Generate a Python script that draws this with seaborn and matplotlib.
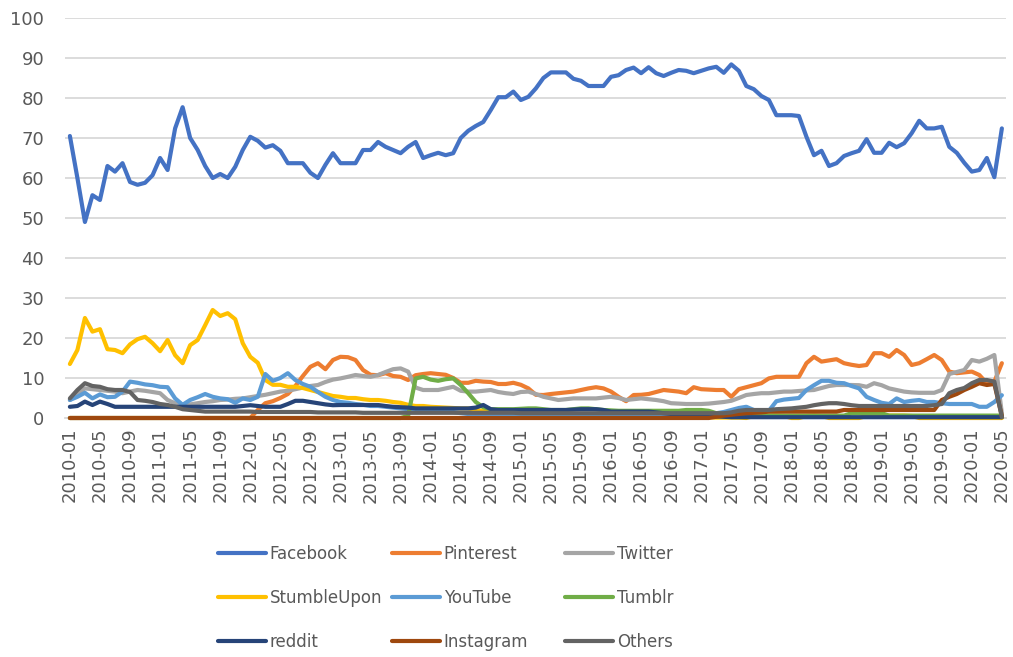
import numpy as np
import pandas as pd
import matplotlib
matplotlib.use("Agg")
import matplotlib.pyplot as plt
import seaborn as sns

# monthly share (%) by platform, 2010-01 .. 2020-05
months = pd.period_range("2010-01", "2020-05", freq="M").strftime("%Y-%m").tolist()

facebook = [70.5, 60, 49, 55.7, 54.5, 63, 61.6, 63.7, 59, 58.3, 58.8, 60.7,
            65, 62, 72.4, 77.7, 70, 67, 63, 60, 61, 60, 62.8, 67,
            70.3, 69.3, 67.6, 68.2, 66.8, 63.7, 63.7, 63.7, 61.3, 60, 63.3, 66.2,
            63.7, 63.7, 63.7, 67, 67, 69, 67.8, 67, 66.2, 67.8, 69, 65,
            65.7, 66.3, 65.7, 66.2, 70, 71.8, 73, 74, 77, 80.2, 80.2, 81.6,
            79.5, 80.3, 82.4, 85, 86.4, 86.4, 86.4, 84.8, 84.3, 83, 83, 83,
            85.3, 85.7, 87, 87.6, 86.2, 87.7, 86.2, 85.5, 86.3, 87, 86.8, 86.2,
            86.8, 87.4, 87.8, 86.3, 88.4, 86.8, 83, 82.2, 80.5, 79.5, 75.7, 75.7,
            75.7, 75.5, 70.3, 65.7, 66.8, 63, 63.7, 65.5, 66.2, 66.8, 69.7, 66.3,
            66.3, 68.8, 67.7, 68.7, 71.2, 74.3, 72.4, 72.4, 72.8, 67.8, 66.3, 63.8,
            61.6, 62, 65, 60.2, 72.4]

pinterest = [0, 0, 0, 0, 0, 0, 0, 0, 0, 0, 0, 0,
             0, 0, 0, 0, 0, 0, 0, 0, 0, 0, 0, 0,
             0, 2, 3.7, 4.2, 5, 6, 8, 10.5, 12.8, 13.7, 12.2, 14.5,
             15.3, 15.2, 14.5, 12, 10.8, 10.7, 11.2, 10.5, 10.3, 9.5, 10.7, 11,
             11.2, 11, 10.8, 10, 8.8, 8.8, 9.3, 9.1, 9, 8.5, 8.5, 8.8,
             8.3, 7.4, 5.8, 5.75, 6, 6.2, 6.4, 6.6, 7, 7.4, 7.7, 7.4,
             6.6, 5.3, 4.2, 5.75, 5.8, 6, 6.5, 7, 6.8, 6.6, 6.2, 7.7,
             7.2, 7.1, 7, 7, 5.3, 7.2, 7.7, 8.2, 8.7, 9.9, 10.3, 10.3,
             10.3, 10.3, 13.7, 15.3, 14.1, 14.4, 14.7, 13.7, 13.3, 13, 13.25, 16.2,
             16.2, 15.3, 17, 15.75, 13.25, 13.7, 14.7, 15.75, 14.5, 11.6, 11.2, 11.4,
             11.6, 10.75, 8.7, 9.1, 13.7]

twitter = [4.5, 6, 7.4, 7.2, 7, 6.8, 6.6, 6.2, 6.6, 7, 6.8, 6.5,
           6.2, 4.5, 3.7, 3.25, 3.4, 3.7, 4, 4.2, 4.5, 4.6, 4.8, 4.9,
           5.2, 5.5, 5.8, 6.2, 6.6, 6.8, 7.2, 7.6, 8, 8.25, 9, 9.6,
           9.9, 10.3, 10.75, 10.5, 10.3, 10.75, 11.5, 12.2, 12.4, 11.6, 7.6, 7,
           7, 7, 7.4, 7.8, 6.8, 6.6, 6.6, 6.8, 7, 6.5, 6.2, 6,
           6.5, 6.6, 6, 5.3, 4.9, 4.5, 4.7, 4.9, 4.9, 4.9, 4.9, 5.1,
           5.3, 5, 4.5, 4.7, 4.9, 4.7, 4.5, 4.2, 3.7, 3.6, 3.5, 3.5,
           3.5, 3.6, 3.8, 4, 4.3, 5, 5.75, 6, 6.2, 6.2, 6.4, 6.6,
           6.6, 6.75, 6.9, 7, 7.5, 8, 8.25, 8.25, 8.25, 8.2, 7.8, 8.7,
           8.2, 7.4, 7, 6.6, 6.4, 6.3, 6.3, 6.3, 7, 11, 11.5, 12,
           14.5, 14.1, 14.8, 15.75, 1.2]

stumbleupon = [13.5, 17, 25, 21.6, 22.2, 17.2, 17, 16.2, 18.4, 19.7, 20.3, 18.7,
               16.7, 19.5, 15.7, 13.7, 18.2, 19.5, 23.2, 27, 25.5, 26.2, 24.7, 18.7,
               15.3, 13.8, 9.5, 8.3, 8.3, 7.8, 7.8, 7.5, 7, 6.5, 6, 5.5,
               5.3, 5, 5, 4.7, 4.5, 4.5, 4.3, 4, 3.8, 3.3, 3, 3,
               2.8, 2.7, 2.6, 2.5, 2.4, 2.4, 2, 1.8, 1.5, 1.5, 1.3, 1.2,
               1.2, 1, 1, 1, 0.9, 0.9, 0.8, 0.8, 0.7, 0.7, 0.6, 0.6,
               0.5, 0.5, 0.5, 0.4, 0.4, 0.4, 0.3, 0.3, 0.3, 0.3, 0.2, 0.2,
               0.2, 0.2, 0.1, 0.1, 0.1, 0.1, 0, 0.5, 0.6, 0.6, 0.6, 0.5,
               0, 0, 0.5, 0.6, 0.5, 0, 0, 0, 0, 0, 0.5, 0.6,
               0.6, 0.6, 0.6, 0.6, 0.5, 0, 0, 0, 0, 0, 0, 0,
               0, 0, 0, 0, 0]

youtube = [4.5, 5.3, 6.3, 4.9, 5.9, 5.2, 5.3, 6.6, 9.1, 8.8, 8.4, 8.2,
           7.8, 7.7, 4.9, 3.3, 4.5, 5.2, 6, 5.3, 4.9, 4.7, 3.8, 4.9,
           4.5, 5.3, 11, 9.3, 10, 11.2, 9.5, 8.5, 7.8, 6.5, 5.3, 4.5,
           4, 3.8, 3.5, 3.3, 3, 3, 2.8, 2.6, 2.4, 2.2, 2, 2,
           1.8, 1.8, 1.6, 1.5, 1.2, 1, 1, 1, 1, 1, 1, 1,
           1, 1, 1, 1, 1, 1, 1, 1, 1, 1, 1, 1,
           1, 1, 1, 1, 1, 1, 1, 1, 1, 1, 1, 1,
           1, 1, 1.2, 1.5, 2, 2.5, 2.8, 2, 1.6, 1.8, 4.2, 4.6,
           4.8, 5, 7, 8.2, 9.3, 9.3, 8.8, 8.7, 8, 7.4, 5.3, 4.5,
           3.8, 3.5, 4.9, 4, 4.3, 4.5, 4, 4, 3.7, 3.5, 3.5, 3.5,
           3.5, 2.8, 2.8, 4, 5.7]

tumblr = [0, 0, 0, 0, 0, 0, 0, 0, 0, 0, 0, 0,
          0, 0, 0, 0, 0, 0, 0, 0, 0, 0, 0, 0,
          0, 0, 0, 0, 0, 0, 0, 0, 0, 0, 0, 0,
          0, 0, 0, 0, 0, 0, 0, 0, 0, 0.5, 9.9, 10.3,
          9.6, 9.3, 9.7, 9.9, 8.25, 6.2, 4, 2.7, 2.2, 2.2, 2.2, 2.2,
          2.3, 2.4, 2.4, 2.2, 2, 2, 2, 2.2, 2.4, 2.4, 2.2, 2,
          1.9, 1.8, 1.8, 1.8, 1.8, 1.8, 1.8, 1.8, 1.8, 1.8, 2, 2,
          2, 1.8, 1.2, 1, 0.8, 0.6, 0.6, 0.6, 0.6, 0.6, 0.6, 0.6,
          0.6, 0.6, 0.6, 0.6, 0.6, 0.6, 0.6, 0.6, 1.2, 1.2, 1.2, 1.2,
          1.2, 0.6, 0.6, 0.6, 0.6, 0.6, 0.6, 0.6, 0.6, 0.6, 0.6, 0.6,
          0.6, 0.6, 0.6, 0.6, 0.6]

reddit = [2.8, 3, 4.1, 3.25, 4.1, 3.5, 2.8, 2.8, 2.8, 2.8, 2.8, 2.8,
          2.8, 2.8, 2.8, 2.8, 2.8, 2.8, 2.8, 2.8, 2.8, 2.8, 2.8, 3,
          3.2, 3, 2.8, 2.8, 2.8, 3.5, 4.3, 4.3, 4, 3.7, 3.4, 3.2,
          3.25, 3.25, 3.25, 3.25, 3.25, 3.25, 3, 2.8, 2.7, 2.6, 2.4, 2.4,
          2.4, 2.4, 2.4, 2.4, 2.4, 2.4, 2.6, 3.25, 2.2, 2, 2, 2,
          2, 2, 2, 2, 2, 2, 2, 2.1, 2.2, 2.2, 2.2, 2,
          1.6, 1.6, 1.6, 1.6, 1.6, 1.6, 1.4, 1.2, 1, 1, 0.8, 0.8,
          0.6, 0.5, 0.4, 0.3, 0.2, 0.2, 0.2, 0.2, 0.2, 0.2, 0.2, 0.2,
          0.2, 0.2, 0.2, 0.2, 0.2, 0.2, 0.2, 0.2, 0.2, 0.2, 0.2, 0.2,
          0.2, 0.2, 0.2, 0.2, 0.2, 0.2, 0.2, 0.2, 0.2, 0.2, 0.2, 0.2,
          0.2, 0.2, 0.2, 0.2, 0.2]

instagram = [0, 0, 0, 0, 0, 0, 0, 0, 0, 0, 0, 0,
             0, 0, 0, 0, 0, 0, 0, 0, 0, 0, 0, 0,
             0, 0, 0, 0, 0, 0, 0, 0, 0, 0, 0, 0,
             0, 0, 0, 0, 0, 0, 0, 0, 0, 0, 0, 0,
             0, 0, 0, 0, 0, 0, 0, 0, 0, 0, 0, 0,
             0, 0, 0, 0, 0, 0, 0, 0, 0, 0, 0, 0,
             0, 0, 0, 0, 0, 0, 0, 0, 0, 0, 0, 0,
             0, 0, 0.3, 0.6, 0.8, 1, 1.2, 1.3, 1.4, 1.6, 1.6, 1.6,
             1.6, 1.6, 1.6, 1.6, 1.6, 1.6, 1.6, 2, 2, 2, 2, 2,
             2, 2, 2, 2, 2, 2, 2, 2, 4.5, 5.3, 6, 7,
             7.8, 8.7, 8.25, 8.5, 0.5]

others = [4.9, 7, 8.7, 8, 7.8, 7.2, 7, 7, 6.5, 4.5, 4.3, 4,
          3.5, 3.25, 2.8, 2.2, 2, 1.8, 1.6, 1.6, 1.6, 1.6, 1.6, 1.6,
          1.6, 1.5, 1.5, 1.5, 1.5, 1.5, 1.5, 1.5, 1.5, 1.4, 1.4, 1.4,
          1.4, 1.4, 1.4, 1.3, 1.3, 1.3, 1.3, 1.3, 1.3, 1.3, 1.3, 1.3,
          1.3, 1.3, 1.3, 1.3, 1.3, 1.3, 1.3, 1.3, 1.3, 1.3, 1.3, 1.3,
          1.2, 1.2, 1.2, 1.2, 1.2, 1.2, 1.2, 1.2, 1.2, 1.2, 1.2, 1.2,
          1.2, 1.2, 1.2, 1.2, 1.2, 1.2, 1.2, 1.2, 1.2, 1.2, 1.2, 1.2,
          1.2, 1.2, 1.2, 1.2, 1.4, 1.8, 2, 2, 2, 2, 2.2, 2.3,
          2.4, 2.6, 2.8, 3.2, 3.5, 3.7, 3.7, 3.5, 3.2, 3, 3, 3,
          3, 3, 3, 3, 3, 3, 3, 3.2, 3.5, 6.2, 7, 7.5,
          8.7, 9.5, 9.5, 9.1, 0.2]

names = ["Facebook", "Pinterest", "Twitter", "StumbleUpon", "YouTube",
         "Tumblr", "reddit", "Instagram", "Others"]
colors = ["#4472C4", "#ED7D31", "#A5A5A5", "#FFC000", "#5B9BD5",
          "#70AD47", "#264478", "#9E480E", "#636363"]

wide = pd.DataFrame({
    "Facebook": facebook, "Pinterest": pinterest, "Twitter": twitter,
    "StumbleUpon": stumbleupon, "YouTube": youtube, "Tumblr": tumblr,
    "reddit": reddit, "Instagram": instagram, "Others": others,
})
wide["idx"] = np.arange(len(months))
long = wide.melt(id_vars="idx", var_name="platform", value_name="share")

sns.set_theme(style="white")
plt.rcParams["font.family"] = ["DejaVu Sans"]

fig = plt.figure(figsize=(10.13, 6.57), dpi=100)
ax = fig.add_axes([65 / 1013, 1 - 418 / 657, (1006 - 65) / 1013, 400 / 657])

sns.lineplot(data=long, x="idx", y="share", hue="platform", hue_order=names,
             palette=dict(zip(names, colors)), linewidth=3.0, estimator=None,
             sort=False, ax=ax, solid_joinstyle="round", solid_capstyle="round",
             clip_on=False, zorder=3)

ax.set_xlim(-0.65, 124.55)
ax.set_ylim(0, 100)
ax.set_yticks(range(0, 101, 10))
ticks = list(range(0, len(months), 4))
ax.set_xticks(ticks)
ax.set_xticklabels([months[i] for i in ticks], rotation=90)
ax.tick_params(axis="y", length=0, pad=15, labelsize=13, labelcolor="#595959")
ax.tick_params(axis="x", length=0, pad=7, labelsize=13, labelcolor="#595959")
ax.set_xlabel("")
ax.set_ylabel("")
ax.yaxis.grid(True, color="#D9D9D9", linewidth=1.3)
ax.set_axisbelow(True)
for s in ["top", "right", "left"]:
    ax.spines[s].set_visible(False)
ax.spines["bottom"].set_color("#D9D9D9")
ax.spines["bottom"].set_linewidth(1.3)
ax.spines["bottom"].set_zorder(1)

# legend: three fixed-width columns, filled row by row
h, l = ax.get_legend_handles_labels()
ax.get_legend().remove()
col_x = [203, 377, 550]
for c in range(3):
    idx = [c, c + 3, c + 6]
    leg = fig.legend([h[i] for i in idx], [l[i] for i in idx],
                     loc="center left", bbox_to_anchor=(col_x[c] / 1013, 1 - 598 / 657),
                     frameon=False, fontsize=12, handlelength=2.9,
                     handletextpad=0.2, labelspacing=1.55)
    for t in leg.get_texts():
        t.set_color("#595959")
    for ln in leg.get_lines():
        ln.set_linewidth(3.0)

fig.savefig("out.png", dpi=100)
